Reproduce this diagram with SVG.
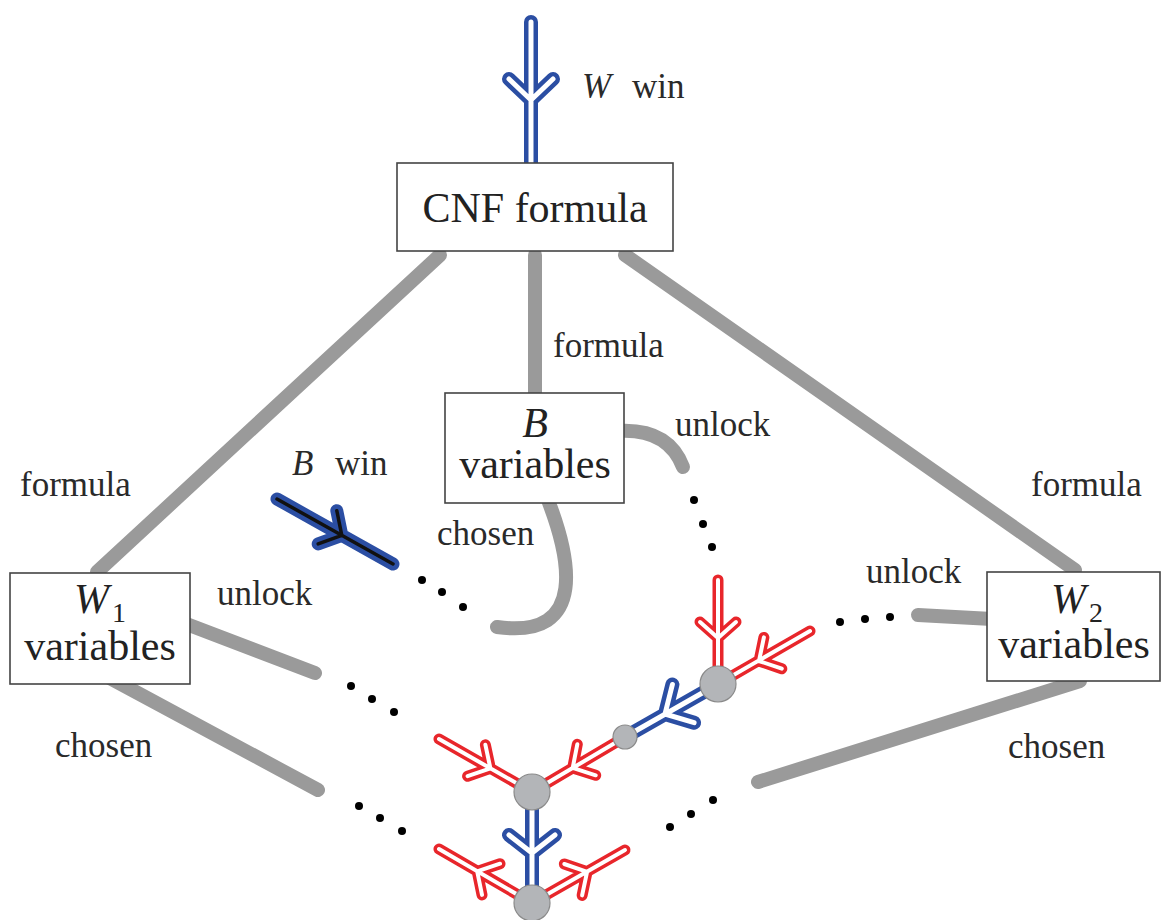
<svg xmlns="http://www.w3.org/2000/svg" xmlns:xlink="http://www.w3.org/1999/xlink" width="1161" height="920" viewBox="0 0 1161 920">
  <style>
    .wire { fill: none; stroke: #9a9a9a; stroke-width: 14; stroke-linecap: round; stroke-linejoin: round; }
    .dot { fill: #000; }
    .blue-o { fill: none; stroke: #2b4ea3; stroke-width: 14; stroke-linecap: round; stroke-linejoin: round; }
    .blue-i { fill: none; stroke: #fff; stroke-width: 5; stroke-linecap: round; stroke-linejoin: round; }
    .red-o { fill: none; stroke: #e8262b; stroke-width: 11; stroke-linecap: round; stroke-linejoin: round; }
    .red-i { fill: none; stroke: #fff; stroke-width: 4; stroke-linecap: round; stroke-linejoin: round; }
    .bw-o { fill: none; stroke: #2b4ea3; stroke-width: 13; stroke-linecap: round; stroke-linejoin: round; }
    .bw-i { fill: none; stroke: #111; stroke-width: 3.5; stroke-linecap: round; stroke-linejoin: round; }
    .joint { fill: #b3b5b8; stroke: #8a8a8a; stroke-width: 1.2; }
    .box { fill: #fff; stroke: #444; stroke-width: 1.6; }
    .big { font-family: "Liberation Serif", "DejaVu Serif", serif; font-size: 42px; fill: #222; }
    .lbl { font-family: "Liberation Serif", "DejaVu Serif", serif; font-size: 35px; fill: #2a2a2a; }
    .it { font-style: italic; }
  </style>
  <defs>
    <path id="arr-top" d="M531,22 L531,163 M509,79 L531,100 L553,79"/>
    <path id="arr-r1" d="M718,580 L718,684 M700,622 L718,638 L736,622"/>
    <path id="arr-r2" d="M810,631 L718,684 M763.9,637.4 L759,661 L781.8,668.7"/>
    <path id="arr-b1" d="M718,684 L625,737 M672.4,684.5 L665,714 L694.1,722.7"/>
    <path id="arr-r3" d="M625,737 L532,792 M577.3,744.3 L572.7,767.9 L595.7,775.3"/>
    <path id="arr-r4" d="M439,739 L532,792 M467.6,776.2 L490.4,768.4 L485.4,744.8"/>
    <path id="arr-b2" d="M532,792 L532,903 M509,835 L532,853 L555,835"/>
    <path id="arr-r5" d="M532,903 L439,849 M500,863.7 L477.2,871.4 L482,894.9"/>
    <path id="arr-r6" d="M532,903 L625,850 M564.3,864 L587.1,871.8 L582.1,895.4"/>
    <path id="arr-bwin" d="M277,499 L393,564 M336.8,510.7 L341.8,535.3 L318.2,543.9"/>
  </defs>

  <!-- connectors -->
  <g id="connectors">
    <!-- grey links between the gadgets -->
    <line class="wire" x1="440" y1="255" x2="97" y2="572"/>
    <line class="wire" x1="535" y1="255" x2="535" y2="395"/>
    <line class="wire" x1="625" y1="255" x2="1075" y2="570"/>
    <path class="wire" d="M618,431 Q668,428 683,467"/>
    <path class="wire" d="M546,495 C570,555 590,640 497,627"/>
    <line class="wire" x1="176" y1="620" x2="315" y2="673"/>
    <line class="wire" x1="95" y1="670" x2="318" y2="790"/>
    <line class="wire" x1="918" y1="615" x2="992" y2="619"/>
    <line class="wire" x1="758" y1="782" x2="1080" y2="681"/>

    <!-- elided parts -->
    <circle class="dot" cx="422" cy="580" r="4"/>
    <circle class="dot" cx="442" cy="592" r="4"/>
    <circle class="dot" cx="463" cy="607" r="4"/>
    <circle class="dot" cx="694" cy="500" r="4"/>
    <circle class="dot" cx="703" cy="524" r="4"/>
    <circle class="dot" cx="712" cy="547" r="4"/>
    <circle class="dot" cx="351" cy="686" r="4"/>
    <circle class="dot" cx="372" cy="699" r="4"/>
    <circle class="dot" cx="394" cy="712" r="4"/>
    <circle class="dot" cx="359" cy="806" r="4"/>
    <circle class="dot" cx="380" cy="818" r="4"/>
    <circle class="dot" cx="402" cy="831" r="4"/>
    <circle class="dot" cx="840" cy="622" r="4"/>
    <circle class="dot" cx="865" cy="619" r="4"/>
    <circle class="dot" cx="890" cy="617" r="4"/>
    <circle class="dot" cx="670" cy="827" r="4"/>
    <circle class="dot" cx="691" cy="814" r="4"/>
    <circle class="dot" cx="713" cy="800" r="4"/>

    <!-- double-lined arrows -->
    <use xlink:href="#arr-top" class="blue-o"/><use xlink:href="#arr-top" class="blue-i"/>
    <use xlink:href="#arr-bwin" class="bw-o"/><use xlink:href="#arr-bwin" class="bw-i"/>
    <use xlink:href="#arr-r1" class="red-o"/><use xlink:href="#arr-r1" class="red-i"/>
    <use xlink:href="#arr-r2" class="red-o"/><use xlink:href="#arr-r2" class="red-i"/>
    <use xlink:href="#arr-b1" class="blue-o"/><use xlink:href="#arr-b1" class="blue-i"/>
    <use xlink:href="#arr-r3" class="red-o"/><use xlink:href="#arr-r3" class="red-i"/>
    <use xlink:href="#arr-r4" class="red-o"/><use xlink:href="#arr-r4" class="red-i"/>
    <use xlink:href="#arr-b2" class="blue-o"/><use xlink:href="#arr-b2" class="blue-i"/>
    <use xlink:href="#arr-r5" class="red-o"/><use xlink:href="#arr-r5" class="red-i"/>
    <use xlink:href="#arr-r6" class="red-o"/><use xlink:href="#arr-r6" class="red-i"/>

    <!-- edge labels -->
    <text class="lbl" y="98"><tspan x="582" class="it">W</tspan><tspan x="632">win</tspan></text>
    <text class="lbl" x="553" y="357">formula</text>
    <text class="lbl" x="675" y="436">unlock</text>
    <text class="lbl" y="475"><tspan x="292" class="it">B</tspan><tspan x="335">win</tspan></text>
    <text class="lbl" x="20" y="496">formula</text>
    <text class="lbl" x="1031" y="496">formula</text>
    <text class="lbl" x="437" y="545">chosen</text>
    <text class="lbl" x="217" y="605">unlock</text>
    <text class="lbl" x="866" y="583">unlock</text>
    <text class="lbl" x="55" y="757">chosen</text>
    <text class="lbl" x="1008" y="758">chosen</text>
  </g>

  <!-- junctions of the gadget -->
  <g id="junction-a"><circle class="joint" cx="718" cy="684" r="18"/></g>
  <g id="junction-s"><circle class="joint" cx="625" cy="737" r="12"/></g>
  <g id="junction-b1"><circle class="joint" cx="532" cy="792" r="18"/></g>
  <g id="junction-b2"><circle class="joint" cx="532" cy="903" r="18"/></g>

  <!-- boxes -->
  <g id="cnf-formula">
    <rect class="box" x="397" y="163" width="276" height="88"/>
    <text class="big" x="535" y="222" text-anchor="middle">CNF formula</text>
  </g>
  <g id="b-variables">
    <rect class="box" x="445" y="393" width="179" height="110"/>
    <text class="big it" x="535" y="437" text-anchor="middle">B</text>
    <text class="big" x="535" y="478" text-anchor="middle">variables</text>
  </g>
  <g id="w1-variables">
    <rect class="box" x="10" y="573" width="180" height="111"/>
    <text class="big" y="613"><tspan x="74" class="it">W</tspan><tspan x="112" y="622" font-size="28">1</tspan></text>
    <text class="big" x="100" y="660" text-anchor="middle">variables</text>
  </g>
  <g id="w2-variables">
    <rect class="box" x="987" y="572" width="173" height="109"/>
    <text class="big" y="613"><tspan x="1051" class="it">W</tspan><tspan x="1089" y="622" font-size="28">2</tspan></text>
    <text class="big" x="1074" y="658" text-anchor="middle">variables</text>
  </g>
</svg>
